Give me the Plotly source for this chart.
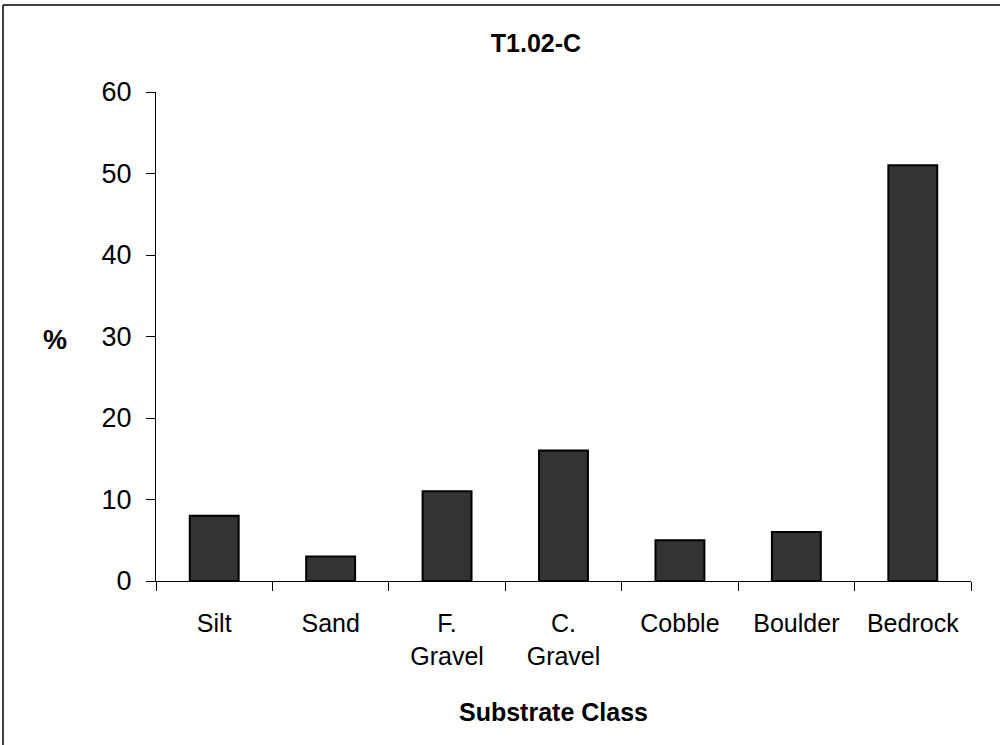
import plotly.graph_objects as go

categories = ["Silt", "Sand", "F.<br>Gravel", "C.<br>Gravel", "Cobble", "Boulder", "Bedrock"]
values = [8, 3, 11, 16, 5, 6, 51]
y_ticks = [0, 10, 20, 30, 40, 50, 60]

L, R, T, B = 156, 971, 92, 581
W, H = 1000, 745

fig = go.Figure()
fig.add_trace(go.Bar(
    x=categories, y=values,
    marker=dict(color="#333333", line=dict(color="#000000", width=2)),
))

def px2paper_x(px):
    return (px - L) / (R - L)

def px2paper_y(py):
    return (B - py) / (B - T)

font = "Arial, Liberation Sans, sans-serif"

fig.update_layout(
    width=W, height=H,
    margin=dict(l=L, r=W - R, t=T, b=H - B, pad=0),
    paper_bgcolor="white", plot_bgcolor="white",
    showlegend=False,
    bargap=0.58,
    font=dict(family=font, size=24, color="black"),
    title=dict(text="<b>T1.02-C</b>", x=px2paper_x(536), xref="paper", xanchor="center",
               y=1 - 43 / H, yanchor="middle", font=dict(size=25, family=font)),
    xaxis=dict(
        showline=True, linecolor="black", linewidth=1,
        ticks="outside", tickson="boundaries", ticklen=9, tickcolor="black", tickwidth=1,
        showgrid=False, zeroline=False,
        tickfont=dict(size=25, family=font),
        ticklabelstandoff=20,
    ),
    yaxis=dict(
        range=[0, 60], tickvals=y_ticks,
        showline=True, linecolor="black", linewidth=1,
        ticks="outside", ticklen=9, tickcolor="black", tickwidth=1,
        showgrid=False, zeroline=False,
        tickfont=dict(size=27, family=font),
        ticklabelstandoff=9,
    ),
    annotations=[
        dict(text="<b>%</b>", x=px2paper_x(55), y=px2paper_y(340), xref="paper", yref="paper",
             showarrow=False, font=dict(size=27, family=font), xanchor="center", yanchor="middle"),
        dict(text="<b>Substrate Class</b>", x=px2paper_x(553), y=px2paper_y(712), xref="paper", yref="paper",
             showarrow=False, font=dict(size=25, family=font), xanchor="center", yanchor="middle"),
    ],
    shapes=[
        dict(type="line", xref="paper", yref="paper", x0=px2paper_x(3), x1=px2paper_x(1010),
             y0=px2paper_y(5), y1=px2paper_y(5), line=dict(color="black", width=1.5)),
        dict(type="line", xref="paper", yref="paper", x0=px2paper_x(3), x1=px2paper_x(3),
             y0=px2paper_y(5), y1=px2paper_y(760), line=dict(color="black", width=1.5)),
    ],
)

fig.write_html("out.html", config={"displayModeBar": False},
               post_script="document.body.style.margin='0';document.body.style.overflow='hidden';")
